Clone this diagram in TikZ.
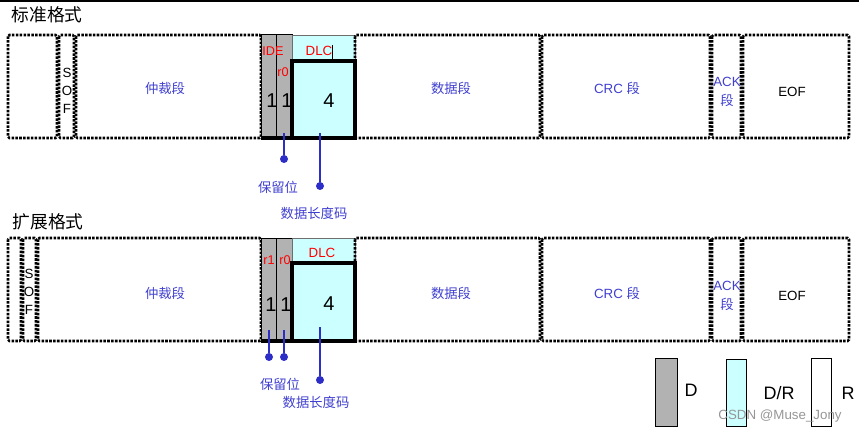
\documentclass[tikz,border=0pt]{standalone}
\usepackage{fontspec}
\setmainfont{Liberation Sans}
\newfontfamily\cjk{Noto Sans CJK SC}

\tikzset{every picture/.style={line width=0.75pt}}
\tikzset{
  frm/.style={line width=1.9pt, densely dotted, rounded corners=1pt},
  dbit/.style={fill={rgb, 255:red, 178; green, 178; blue, 178}, draw=black, line width=0.75pt},
  drbit/.style={fill={rgb, 255:red, 204; green, 255; blue, 255}, draw={rgb, 255:red, 110; green, 110; blue, 110}, line width=0.5pt},
  rbit/.style={fill=white, draw=black, line width=0.75pt},
  dlcbox/.style={draw=black, line width=3pt},
  seglbl/.style={text={rgb, 255:red, 64; green, 64; blue, 208}, font=\cjk\fontsize{10}{12}\selectfont, inner sep=0.75pt},
  redlbl/.style={text={rgb, 255:red, 255; green, 0; blue, 0}, font=\fontsize{9.5}{11}\selectfont, inner sep=0.75pt},
  bitnum/.style={font=\fontsize{15}{18}\selectfont, inner sep=0.75pt},
  blk/.style={font=\fontsize{10}{12}\selectfont, inner sep=0.75pt},
  title/.style={font=\cjk\fontsize{13.3}{16}\selectfont, inner sep=0.75pt},
  lgd/.style={font=\fontsize{13.5}{16}\selectfont, inner sep=0.75pt},
  dotpin/.style={circle, fill={rgb, 255:red, 45; green, 45; blue, 200}, inner sep=0pt, minimum size=6pt},
  pinline/.style={draw={rgb, 255:red, 45; green, 45; blue, 200}, line width=1pt},
}

\begin{document}
\begin{tikzpicture}[x=0.75pt,y=0.75pt,yscale=-1,xscale=1]
\useasboundingbox (0,0) rectangle (859,435);

%Straight Lines top rule
\draw [line width=1pt] (0,1) -- (859,1) ;

% ---------- standard frame ----------
\node[title] (stdtitle) at (47,15) {标准格式};

%Shape: Rectangle fields
\draw [frm] (8,35) rectangle (57,138) ;
\draw [frm] (59,35) rectangle (74,138) ;
\draw [frm] (76,35) rectangle (261,138) ;
\draw [dbit] (261,35) rectangle (276,138) ;
\draw [dbit] (276,35) rectangle (292,138) ;
\draw [drbit] (292,35) rectangle (355,138) ;
\draw [frm] (355,35) rectangle (540,138) ;
\draw [frm] (542,35) rectangle (710,138) ;
\draw [frm] (712,35) rectangle (741,138) ;
\draw [frm] (743,35) rectangle (849,138) ;
\draw [dlcbox] (292,61) rectangle (355,138) ;
\draw [line width=3pt] (261,138) -- (292,138) ;
\draw [line width=0.4pt] (332,45) -- (332,60) ;

% Text Node
\node[blk, align=center, font=\fontsize{10}{13.5}\selectfont] (stdsof) at (67,91) {S\\O\\F};
% Text Node
\node[seglbl] (stdarb) at (165,88) {仲裁段};
% Text Node
\node[redlbl] (stdide) at (273,51) {IDE};
% Text Node
\node[redlbl] (stdr0) at (283,72) {r0};
% Text Node
\node[redlbl, font=\fontsize{10}{12}\selectfont] (stddlc) at (319,51) {DLC};
% Text Node
\node[bitnum] (stdone) at (272,101) {1};
\node[bitnum] (stdtwo) at (287,101) {1};
\node[bitnum] (stdfour) at (329,101) {4};
% Text Node
\node[seglbl] (stddata) at (451,88) {数据段};
\node[seglbl] (stdcrc) at (617,88) {\setmainfont{Liberation Sans}\fontsize{10}{12}\selectfont CRC \cjk 段};
\node[seglbl, align=center, font=\fontsize{10}{14.5}\selectfont] (stdack) at (727,92) {ACK\\\cjk 段};
\node[blk] (stdeof) at (792,92) {EOF};

%Straight Lines pins
\coordinate (stdr0p) at (284,133);
\node[dotpin] (stdr0d) at (284,159) {};
\draw [pinline] (stdr0p) -- (stdr0d) ;
\coordinate (stddlcp) at (320,133);
\node[dotpin] (stddlcd) at (320,186) {};
\draw [pinline] (stddlcp) -- (stddlcd) ;
% Text Node
\node[seglbl] (stdrsv) at (278,187) {保留位};
\node[seglbl] (stdlen) at (314,213) {数据长度码};

% ---------- extended frame ----------
\node[title] (exttitle) at (48,222) {扩展格式};

%Shape: Rectangle fields
\draw [frm] (8,238) rectangle (21,341) ;
\draw [frm] (23,238) rectangle (36,341) ;
\draw [frm] (38,238) rectangle (261,341) ;
\draw [dbit] (261,238) rectangle (276,341) ;
\draw [dbit] (276,238) rectangle (292,341) ;
\draw [drbit] (292,238) rectangle (355,341) ;
\draw [frm] (355,238) rectangle (540,341) ;
\draw [frm] (542,238) rectangle (710,341) ;
\draw [frm] (712,238) rectangle (741,341) ;
\draw [frm] (743,238) rectangle (849,341) ;
\draw [dlcbox] (292,263) rectangle (355,341) ;
\draw [line width=3pt] (261,341) -- (292,341) ;

% Text Node
\node[blk, align=center, font=\fontsize{10}{13.5}\selectfont] (extsof) at (29,292) {S\\O\\F};
\node[seglbl] (extarb) at (165,293) {仲裁段};
\node[redlbl] (extr1) at (269,260) {r1};
\node[redlbl] (extr0) at (285,260) {r0};
\node[redlbl, font=\fontsize{10}{12}\selectfont] (extdlc) at (322,253) {DLC};
\node[bitnum] (extone) at (271,305) {1};
\node[bitnum] (exttwo) at (286,305) {1};
\node[bitnum] (extfour) at (329,304) {4};
\node[seglbl] (extdata) at (451,293) {数据段};
\node[seglbl] (extcrc) at (617,293) {\setmainfont{Liberation Sans}\fontsize{10}{12}\selectfont CRC \cjk 段};
\node[seglbl, align=center, font=\fontsize{10}{14.5}\selectfont] (extack) at (727,296) {ACK\\\cjk 段};
\node[blk] (exteof) at (792,296) {EOF};

%Straight Lines pins
\coordinate (extr1p) at (269,330);
\node[dotpin] (extr1d) at (269,357) {};
\draw [pinline] (extr1p) -- (extr1d) ;
\coordinate (extr0p) at (284,330);
\node[dotpin] (extr0d) at (284,357) {};
\draw [pinline] (extr0p) -- (extr0d) ;
\coordinate (extdlcp) at (320,327);
\node[dotpin] (extdlcd) at (320,380) {};
\draw [pinline] (extdlcp) -- (extdlcd) ;
% Text Node
\node[seglbl] (extrsv) at (280,384) {保留位};
\node[seglbl] (extlen) at (316,402) {数据长度码};

% ---------- legend ----------
\draw [dbit] (655,358) rectangle (677,426) ;
\node[lgd] (lgdd) at (691,390) {D};
\draw [drbit, draw=black, line width=0.75pt] (726,359) rectangle (746,426) ;
\node[lgd] (lgddr) at (779,393) {D/R};
\draw [rbit] (811,358) rectangle (831,426) ;
\node[lgd] (lgdr) at (848,393) {R};

% Text Node
\node[font=\fontsize{10}{12}\selectfont, text={rgb, 255:red, 150; green, 150; blue, 150}, inner sep=0.75pt] (wmark) at (780,416) {CSDN @Muse\_Jony};

\end{tikzpicture}
\end{document}
